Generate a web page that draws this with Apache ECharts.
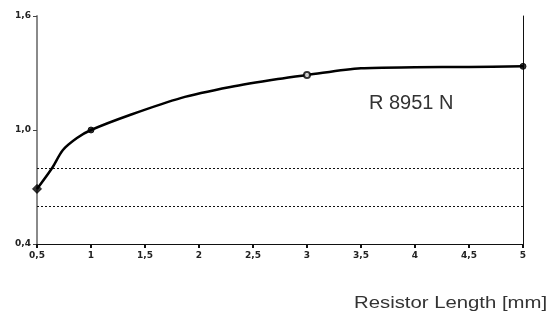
<!DOCTYPE html>
<html>
<head>
<meta charset="utf-8">
<script src="https://cdn.jsdelivr.net/npm/echarts@6/dist/echarts.min.js"></script>
<style>
  html, body { margin: 0; padding: 0; background: #fff; }
  #chart { width: 550px; height: 320px; }
</style>
</head>
<body>
<div id="chart"></div>
<script>
// curve (resistor length in mm -> value)
const curveLength = [0.5, 0.64, 0.74, 0.87, 1.0, 1.36, 1.83, 2.29, 2.73, 3.0, 3.5, 4.0, 4.5, 5.0];
const curveValues = [0.69, 0.80, 0.895, 0.958, 1.0, 1.079, 1.168, 1.226, 1.268, 1.289, 1.325, 1.33, 1.332, 1.335];

// measured points shown with markers
const markLength = [0.5, 1, 3, 5];
const markValues = [0.69, 1.0, 1.289, 1.335];
const markShapes = ['diamond', 'circle', 'emptyCircle', 'circle'];

// dashed limit lines
const limitValues = [0.8, 0.6];

// german style decimal comma
const xLabel = v => String(Math.round(v * 10) / 10).replace('.', ',');
const yLabel = v => v.toFixed(1).replace('.', ',');

const chart = echarts.init(document.getElementById('chart'));

chart.setOption({
    animation: false,
    grid: { left: 37, right: 27, top: 16, bottom: 76 },
    xAxis: {
        type: 'value',
        min: 0.5,
        max: 5,
        interval: 0.5,
        axisLine: { show: true, lineStyle: { color: '#111', width: 1 } },
        axisTick: { show: true, length: 4, lineStyle: { color: '#111', width: 2 } },
        axisLabel: {
            formatter: xLabel,
            color: '#222',
            fontSize: 9,
            fontWeight: 'bold',
            fontFamily: 'DejaVu Sans',
            margin: 7
        },
        splitLine: { show: false }
    },
    yAxis: [{
        type: 'value',
        min: 0.4,
        max: 1.6,
        interval: 0.6,
        axisLine: { show: true, lineStyle: { color: '#8a8a8a', width: 2 } },
        axisTick: { show: true, length: 4, lineStyle: { color: '#444', width: 1 } },
        axisLabel: {
            formatter: yLabel,
            color: '#222',
            fontSize: 9,
            fontWeight: 'bold',
            fontFamily: 'DejaVu Sans',
            margin: 6
        },
        splitLine: { show: false }
    }, {
        type: 'value',
        position: 'right',
        min: 0.4,
        max: 1.6,
        interval: 0.6,
        axisLine: { show: true, lineStyle: { color: '#111', width: 1 } },
        axisTick: { show: false },
        axisLabel: { show: false },
        splitLine: { show: false }
    }],
    series: [{
        type: 'line',
        data: curveLength.map((x, i) => [x, curveValues[i]]),
        smooth: 0.3,
        showSymbol: false,
        lineStyle: { color: '#000', width: 2.5 },
        markLine: {
            silent: true,
            symbol: 'none',
            label: { show: false },
            lineStyle: { color: '#111', width: 1, type: [2, 2] },
            data: limitValues.map(v => ({ yAxis: v }))
        },
        z: 3
    }, {
        type: 'scatter',
        data: markLength.map((x, i) => ({
            value: [x, markValues[i]],
            symbol: markShapes[i],
            symbolSize: i === 0 ? 9 : 6
        })),
        itemStyle: { color: '#000', borderColor: '#000', borderWidth: 1 },
        z: 4
    }],
    graphic: [{
        type: 'text',
        left: 369,
        top: 93,
        style: {
            text: 'R 8951 N',
            font: '20px "Liberation Sans", Arial, sans-serif',
            fill: '#333'
        }
    }, {
        type: 'text',
        left: 354,
        top: 296,
        scaleX: 1.27,
        style: {
            text: 'Resistor Length [mm]',
            font: '16px "Liberation Sans", Arial, sans-serif',
            fill: '#333'
        }
    }]
});
</script>
</body>
</html>
